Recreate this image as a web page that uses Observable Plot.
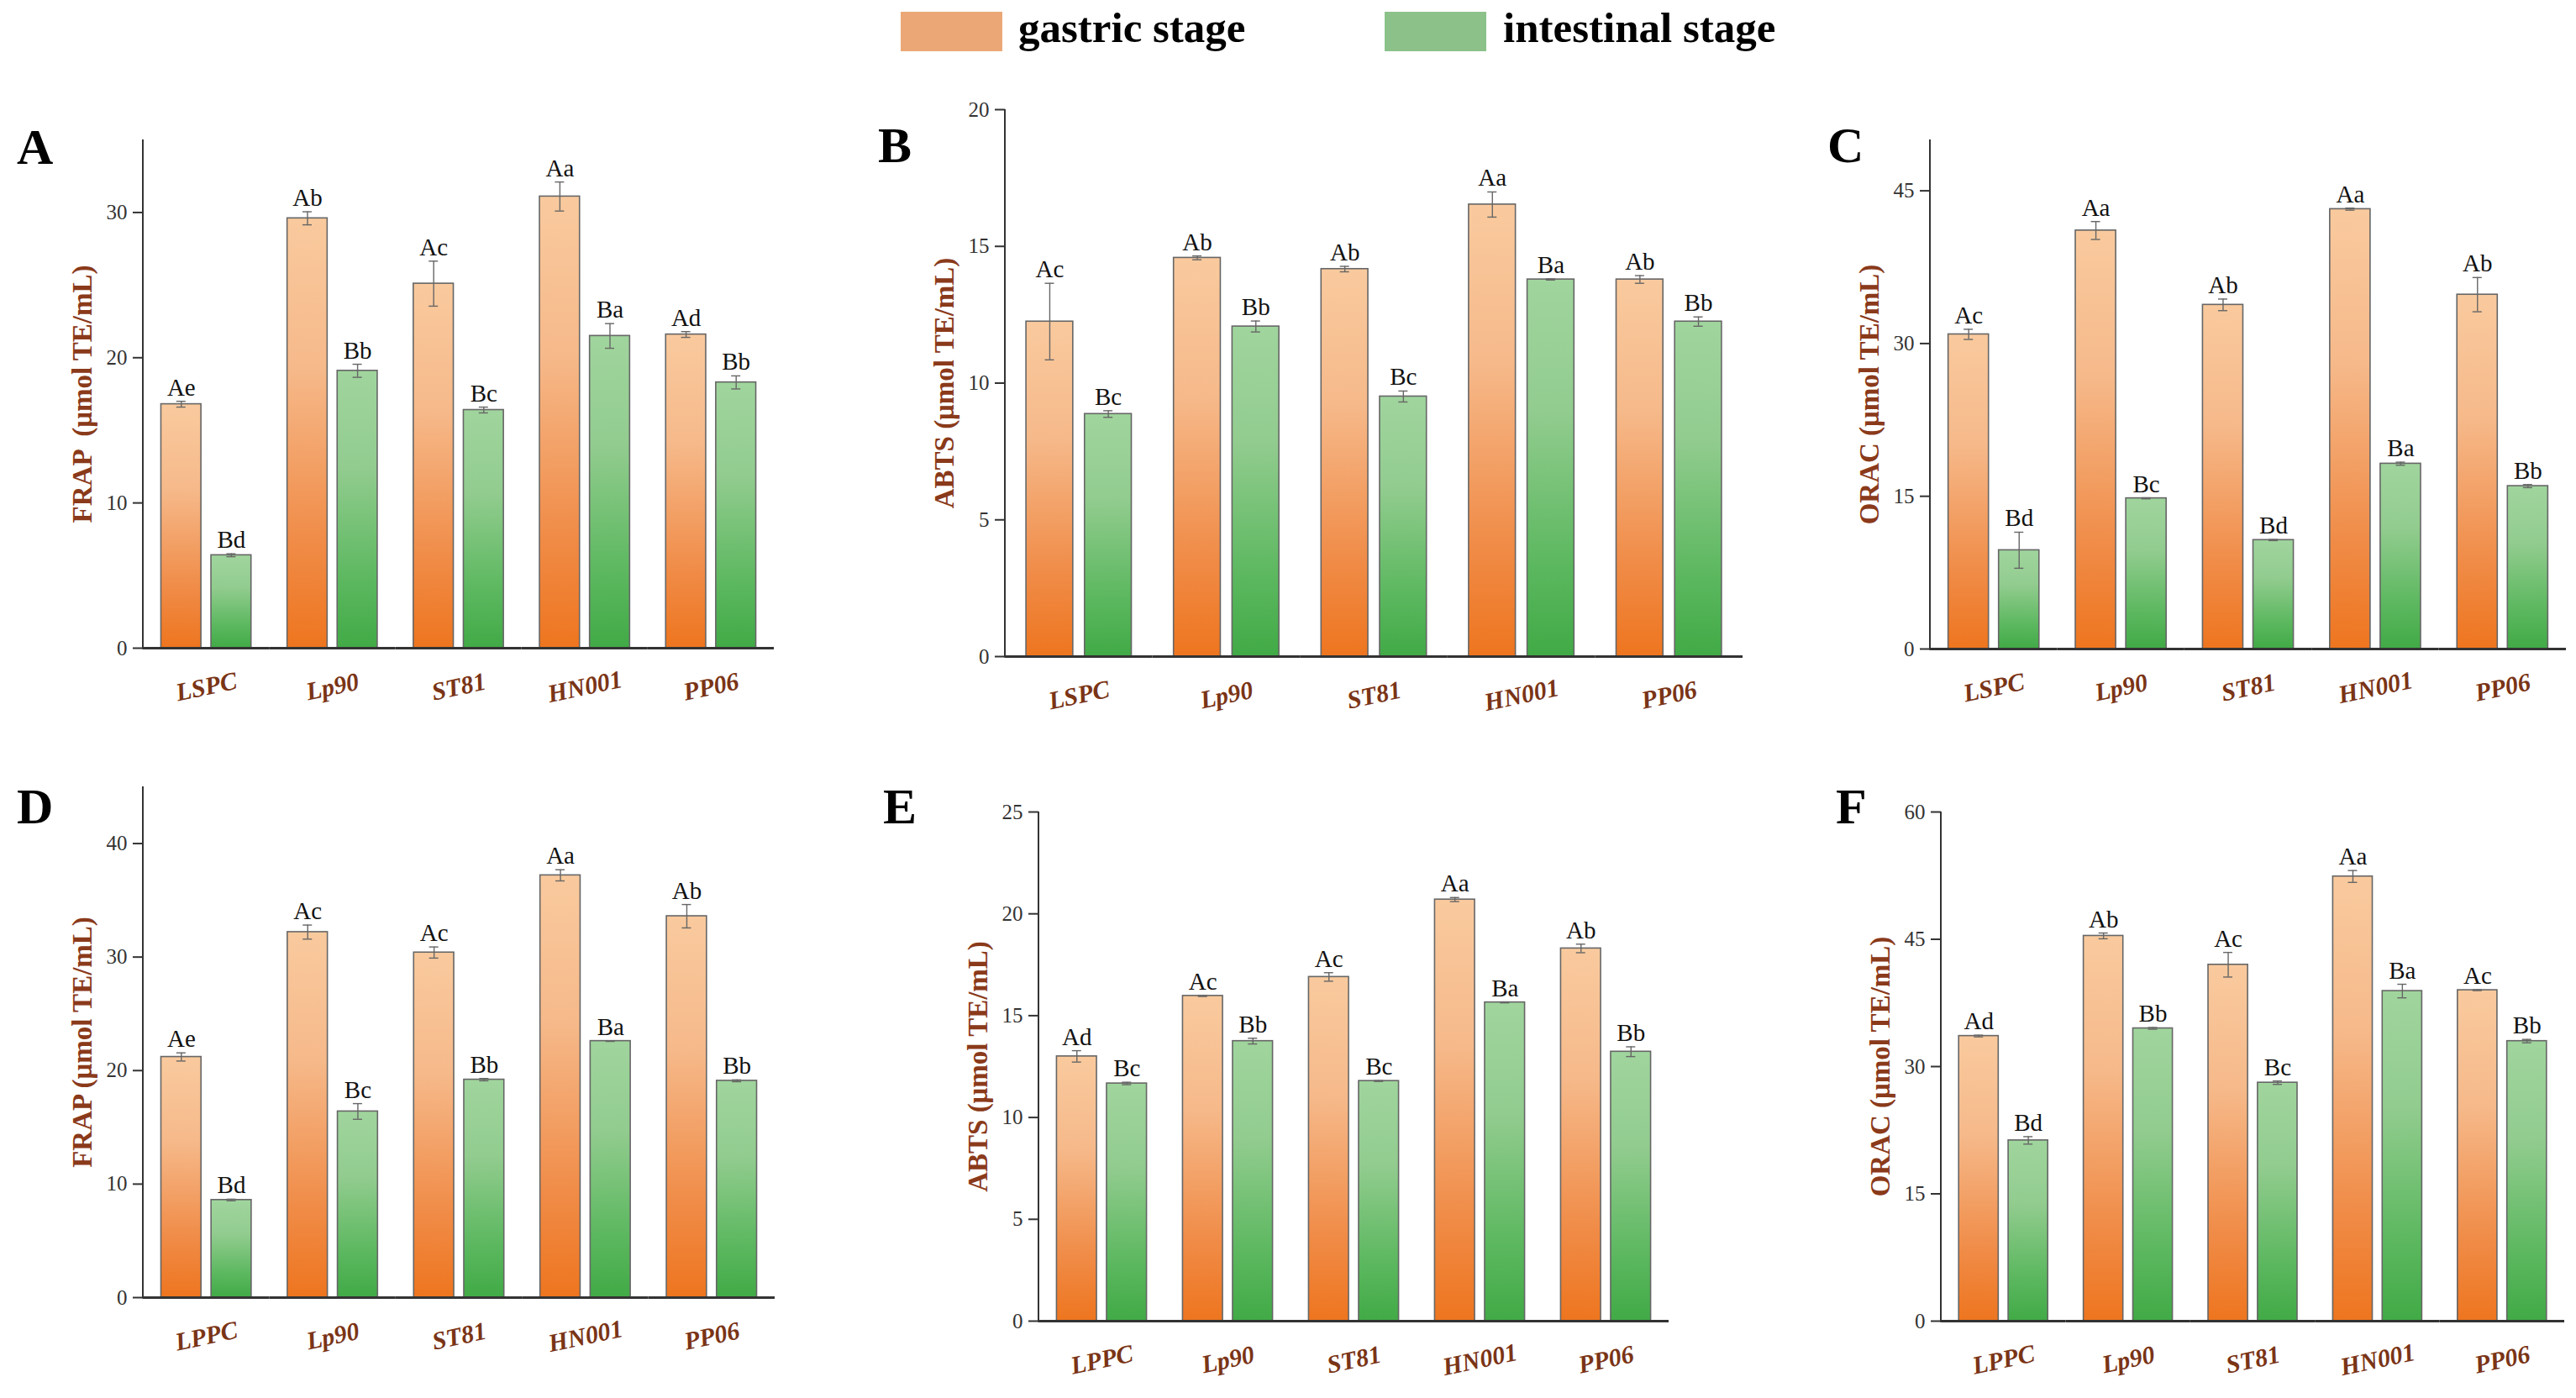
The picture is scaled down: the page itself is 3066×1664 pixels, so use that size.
<!DOCTYPE html>
<html>
<head>
<meta charset="utf-8">
<script src="https://cdn.jsdelivr.net/npm/d3@7"></script>
<script src="https://cdn.jsdelivr.net/npm/@observablehq/plot@0.6"></script>
<style>
  html, body { margin: 0; padding: 0; background: #fff; }
  #page { position: relative; width: 3066px; height: 1664px; background: #fff; overflow: hidden;
          font-family: "Liberation Serif", "Times New Roman", serif; }
  .panel { position: absolute; }
  .letter { position: absolute; font-size: 60px; line-height: 60px; font-weight: bold; color: #000; }
  .swatch { position: absolute; }
  .legtext { position: absolute; font-size: 51px; line-height: 51px; font-weight: bold; color: #000; white-space: nowrap; }
</style>
</head>
<body>
<div id="page"></div>
<svg width="0" height="0" style="position:absolute">
  <defs>
    <linearGradient id="gradOrange" x1="0" y1="0" x2="0" y2="1">
      <stop offset="0" stop-color="#f9ca9e"/>
      <stop offset="0.35" stop-color="#f6b98a"/>
      <stop offset="0.75" stop-color="#f08c48"/>
      <stop offset="1" stop-color="#ee751f"/>
    </linearGradient>
    <linearGradient id="gradGreen" x1="0" y1="0" x2="0" y2="1">
      <stop offset="0" stop-color="#a0d59d"/>
      <stop offset="0.35" stop-color="#92cc8f"/>
      <stop offset="0.75" stop-color="#5db860"/>
      <stop offset="1" stop-color="#41aa46"/>
    </linearGradient>
  </defs>
</svg>
<script>
// ---------- data ----------
const strainsTop = ["LSPC", "Lp90", "ST81", "HN001", "PP06"];
const strainsBottom = ["LPPC", "Lp90", "ST81", "HN001", "PP06"];
const stages = ["gastric stage", "intestinal stage"];

// Panel A – FRAP (LSPC)
const aGastric = [16.8, 29.6, 25.1, 31.1, 21.6];
const aGastricErr = [0.2, 0.45, 1.55, 1.0, 0.2];
const aIntestinal = [6.4, 19.1, 16.4, 21.5, 18.3];
const aIntestinalErr = [0.1, 0.45, 0.2, 0.85, 0.45];
const aGastricLetters = ["Ae", "Ab", "Ac", "Aa", "Ad"];
const aIntestinalLetters = ["Bd", "Bb", "Bc", "Ba", "Bb"];
const aTicks = [0, 10, 20, 30];
const aMax = 35;

// Panel B – ABTS (LSPC)
const bGastric = [12.25, 14.58, 14.17, 16.53, 13.79];
const bGastricErr = [1.4, 0.07, 0.1, 0.46, 0.14];
const bIntestinal = [8.87, 12.07, 9.51, 13.79, 12.25];
const bIntestinalErr = [0.12, 0.2, 0.2, 0.02, 0.17];
const bGastricLetters = ["Ac", "Ab", "Ab", "Aa", "Ab"];
const bIntestinalLetters = ["Bc", "Bb", "Bc", "Ba", "Bb"];
const bTicks = [0, 5, 10, 15, 20];
const bMax = 20;

// Panel C – ORAC (LSPC)
const cGastric = [30.9, 41.1, 33.8, 43.2, 34.8];
const cGastricErr = [0.5, 0.88, 0.57, 0.1, 1.68];
const cIntestinal = [9.7, 14.8, 10.7, 18.2, 16.0];
const cIntestinalErr = [1.77, 0.05, 0.05, 0.15, 0.15];
const cGastricLetters = ["Ac", "Aa", "Ab", "Aa", "Ab"];
const cIntestinalLetters = ["Bd", "Bc", "Bd", "Ba", "Bb"];
const cTicks = [0, 15, 30, 45];
const cMax = 50;

// Panel D – FRAP (LPPC)
const dGastric = [21.2, 32.2, 30.4, 37.2, 33.6];
const dGastricErr = [0.36, 0.62, 0.49, 0.49, 1.03];
const dIntestinal = [8.6, 16.4, 19.2, 22.6, 19.1];
const dIntestinalErr = [0.07, 0.69, 0.1, 0.03, 0.08];
const dGastricLetters = ["Ae", "Ac", "Ac", "Aa", "Ab"];
const dIntestinalLetters = ["Bd", "Bc", "Bb", "Ba", "Bb"];
const dTicks = [0, 10, 20, 30, 40];
const dMax = 45;

// Panel E – ABTS (LPPC)
const eGastric = [13.0, 15.97, 16.9, 20.7, 18.3];
const eGastricErr = [0.28, 0.03, 0.21, 0.1, 0.21];
const eIntestinal = [11.67, 13.75, 11.79, 15.65, 13.23];
const eIntestinalErr = [0.06, 0.14, 0.02, 0.02, 0.24];
const eGastricLetters = ["Ad", "Ac", "Ac", "Aa", "Ab"];
const eIntestinalLetters = ["Bc", "Bb", "Bc", "Ba", "Bb"];
const eTicks = [0, 5, 10, 15, 20, 25];
const eMax = 25;

// Panel F – ORAC (LPPC)
const fGastric = [33.6, 45.4, 42.0, 52.4, 39.0];
const fGastricErr = [0.1, 0.34, 1.45, 0.7, 0.05];
const fIntestinal = [21.3, 34.5, 28.1, 38.9, 33.0];
const fIntestinalErr = [0.44, 0.1, 0.2, 0.8, 0.2];
const fGastricLetters = ["Ad", "Ab", "Ac", "Aa", "Ac"];
const fIntestinalLetters = ["Bd", "Bb", "Bc", "Ba", "Bb"];
const fTicks = [0, 15, 30, 45, 60];
const fMax = 60;

const yTitles = ["FRAP  (μmol TE/mL)", "ABTS (μmol TE/mL)", "ORAC (μmol TE/mL)",
                 "FRAP (μmol TE/mL)", "ABTS (μmol TE/mL)", "ORAC (μmol TE/mL)"];
const panelLetters = ["A", "B", "C", "D", "E", "F"];

// ---------- layout (pixels) ----------
const layout = [
  {axisX: 170,  right: 921,  top: 166, base: 771,  lx: 20,   lb: 195},
  {axisX: 1196, right: 2074, top: 130, base: 781,  lx: 1045, lb: 193},
  {axisX: 2297, right: 3054, top: 166, base: 772,  lx: 2175, lb: 193},
  {axisX: 170,  right: 922,  top: 936, base: 1544, lx: 20,   lb: 980},
  {axisX: 1236, right: 1986, top: 966, base: 1572, lx: 1051, lb: 980},
  {axisX: 2310, right: 3052, top: 966, base: 1572, lx: 2185, lb: 980}
];

const panelData = [
  [strainsTop, aGastric, aGastricErr, aIntestinal, aIntestinalErr, aGastricLetters, aIntestinalLetters, aTicks, aMax],
  [strainsTop, bGastric, bGastricErr, bIntestinal, bIntestinalErr, bGastricLetters, bIntestinalLetters, bTicks, bMax],
  [strainsTop, cGastric, cGastricErr, cIntestinal, cIntestinalErr, cGastricLetters, cIntestinalLetters, cTicks, cMax],
  [strainsBottom, dGastric, dGastricErr, dIntestinal, dIntestinalErr, dGastricLetters, dIntestinalLetters, dTicks, dMax],
  [strainsBottom, eGastric, eGastricErr, eIntestinal, eIntestinalErr, eGastricLetters, eIntestinalLetters, eTicks, eMax],
  [strainsBottom, fGastric, fGastricErr, fIntestinal, fIntestinalErr, fGastricLetters, fIntestinalLetters, fTicks, fMax]
];

const FONT = "Liberation Serif, Times New Roman, serif";
const BROWN = "#7a3416";
const TITLE_BROWN = "#8a3a1a";
const PAD_IN = 0.2, PAD_OUT = 0.36;

const page = document.getElementById("page");

panelData.forEach((pd, k) => {
  const [strains, g, ge, it, ie, gl, il, ticks, yMax] = pd;
  const L = layout[k];
  const rows = [];
  strains.forEach((s, i) => {
    rows.push({strain: s, stage: stages[0], value: g[i], err: ge[i], letter: gl[i]});
    rows.push({strain: s, stage: stages[1], value: it[i], err: ie[i], letter: il[i]});
  });
  const gRows = rows.filter(d => d.stage === stages[0]);
  const iRows = rows.filter(d => d.stage === stages[1]);

  const svgLeft = L.axisX - 170;
  const svgTop = L.top - 80;
  const svgW = Math.min(3066 - svgLeft, L.right - svgLeft + 10);
  const svgH = (L.base + 90) - svgTop;

  const facetW = (L.right - L.axisX) / strains.length;
  const step = facetW / (2 - PAD_IN + 2 * PAD_OUT);
  const bw = step * (1 - PAD_IN);
  const capInset = Math.max(0, (bw - 11) / 2);

  const plot = Plot.plot({
    width: svgW,
    height: svgH,
    marginLeft: L.axisX - svgLeft,
    marginRight: svgLeft + svgW - L.right,
    marginTop: L.top - svgTop,
    marginBottom: svgTop + svgH - L.base,
    style: {fontFamily: FONT, background: "transparent", overflow: "visible"},
    fx: {domain: strains, padding: 0, axis: null, round: false},
    x: {domain: stages, paddingInner: PAD_IN, paddingOuter: PAD_OUT, axis: null, round: false},
    y: {domain: [0, yMax]},
    marks: [
      Plot.barY(gRows, {fx: "strain", x: "stage", y: "value", fill: "url(#gradOrange)", stroke: "#666", strokeWidth: 1.6}),
      Plot.barY(iRows, {fx: "strain", x: "stage", y: "value", fill: "url(#gradGreen)", stroke: "#666", strokeWidth: 1.6}),
      Plot.ruleX(rows, {fx: "strain", x: "stage", y1: d => d.value - d.err, y2: d => d.value + d.err, stroke: "#666", strokeWidth: 1.4}),
      Plot.tickY(rows, {fx: "strain", x: "stage", y: d => d.value + d.err, stroke: "#666", strokeWidth: 1.4, insetLeft: capInset, insetRight: capInset}),
      Plot.tickY(rows, {fx: "strain", x: "stage", y: d => d.value - d.err, stroke: "#666", strokeWidth: 1.4, insetLeft: capInset, insetRight: capInset}),
      Plot.text(rows, {fx: "strain", x: "stage", y: d => d.value + d.err, text: "letter", dy: -7, lineAnchor: "bottom",
                       fontSize: 29, fontFamily: FONT, fill: "#111"}),
      Plot.ruleY([0], {stroke: "#333", strokeWidth: 3}),
      Plot.axisY(ticks, {tickSize: 12, tickPadding: 7, fontSize: 25, fontFamily: FONT, color: "#333", strokeWidth: 2, label: null}),
      Plot.text(strains, {fx: d => d, text: d => d, frameAnchor: "bottom", dy: 46, rotate: -12,
                          textAnchor: "middle", lineAnchor: "middle",
                          fontSize: 30, fontStyle: "italic", fontWeight: "bold", fontFamily: FONT, fill: BROWN}),
      Plot.text([yTitles[k]], {fx: () => strains[0], text: d => d, frameAnchor: "left", dx: -72, rotate: -90,
                               textAnchor: "middle", lineAnchor: "middle",
                               fontSize: 33, fontWeight: "bold", fontFamily: FONT, fill: TITLE_BROWN})
    ]
  });

  // y axis line drawn with the plot's own y scale
  const ys = plot.scale("y");
  const ml = L.axisX - svgLeft;
  d3.select(plot).append("line")
    .attr("x1", ml).attr("x2", ml)
    .attr("y1", ys.apply(0) + 1.5).attr("y2", ys.apply(yMax))
    .attr("stroke", "#333").attr("stroke-width", 2);

  plot.classList.add("panel");
  plot.style.left = svgLeft + "px";
  plot.style.top = svgTop + "px";
  page.appendChild(plot);

  const letter = document.createElement("div");
  letter.className = "letter";
  letter.textContent = panelLetters[k];
  letter.style.left = L.lx + "px";
  letter.style.top = (L.lb - 50) + "px";
  page.appendChild(letter);
});

// legend
const legendItems = [
  {label: stages[0], color: "#eba876", sx: 1072, tx: 1212},
  {label: stages[1], color: "#8cc28a", sx: 1648, tx: 1789}
];
legendItems.forEach(it => {
  const sw = document.createElement("div");
  sw.className = "swatch";
  Object.assign(sw.style, {left: it.sx + "px", top: "14px", width: "121px", height: "47px", background: it.color});
  page.appendChild(sw);
  const tx = document.createElement("div");
  tx.className = "legtext";
  tx.textContent = it.label;
  Object.assign(tx.style, {left: it.tx + "px", top: "8px"});
  page.appendChild(tx);
});
</script>
</body>
</html>
